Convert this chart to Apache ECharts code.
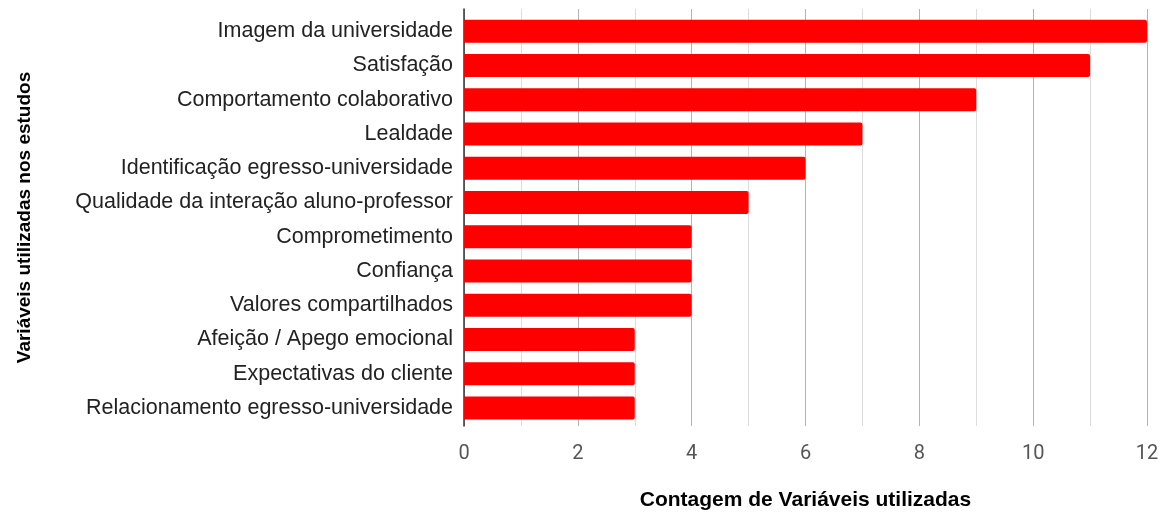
<!DOCTYPE html>
<html>
<head>
<meta charset="utf-8">
<script src="https://cdn.jsdelivr.net/npm/echarts@6/dist/echarts.min.js"></script>
<style>
  html, body { margin: 0; padding: 0; background: #fff; }
  #chart { width: 1173px; height: 516px; }
</style>
</head>
<body>
<div id="chart"></div>
<script>
// dados
var categorias = [
  'Imagem da universidade',
  'Satisfação',
  'Comportamento colaborativo',
  'Lealdade',
  'Identificação egresso-universidade',
  'Qualidade da interação aluno-professor',
  'Comprometimento',
  'Confiança',
  'Valores compartilhados',
  'Afeição / Apego emocional',
  'Expectativas do cliente',
  'Relacionamento egresso-universidade'
];
var contagem = [12, 11, 9, 7, 6, 5, 4, 4, 4, 3, 3, 3];
var eixoMin = 0, eixoMax = 12, eixoPasso = 2;

var myChart = echarts.init(document.getElementById('chart'));

var option = {
  animation: false,
  grid: [
    // grade das barras
    { left: 464, right: 26, top: 14, bottom: 91 },
    // grade das linhas de fundo (um pouco maior)
    { left: 464, right: 26, top: 9, bottom: 86 }
  ],
  xAxis: [
    {
      gridIndex: 0, type: 'value', min: eixoMin, max: eixoMax, interval: eixoPasso,
      axisLine: { show: false }, axisTick: { show: false },
      axisLabel: { show: false }, splitLine: { show: false }
    },
    {
      gridIndex: 1, type: 'value', min: eixoMin, max: eixoMax, interval: eixoPasso,
      axisLine: { show: false }, axisTick: { show: false },
      axisLabel: { color: '#555', fontFamily: 'Roboto', fontSize: 20, margin: 18 },
      splitLine: { show: true, lineStyle: { color: '#b3b3b3', width: 1 } },
      minorTick: { show: false, splitNumber: 2 },
      minorSplitLine: { show: true, lineStyle: { color: '#dcdcdc', width: 1 } },
      name: 'Contagem de Variáveis utilizadas',
      nameLocation: 'middle',
      nameGap: 64,
      nameTextStyle: { color: '#000', fontFamily: 'Liberation Sans', fontWeight: 'bold', fontSize: 21 }
    }
  ],
  yAxis: [
    {
      gridIndex: 0, type: 'category', data: categorias, inverse: true,
      axisLine: { show: false }, axisTick: { show: false },
      axisLabel: { color: '#222', fontFamily: 'Liberation Sans', fontSize: 21.5, margin: 11 }
    },
    {
      gridIndex: 1, type: 'value', min: 0, max: 1,
      axisLine: { show: true, lineStyle: { color: '#333', width: 1.5 } },
      axisTick: { show: false }, axisLabel: { show: false }, splitLine: { show: false },
      name: 'Variáveis utilizadas nos estudos',
      nameLocation: 'middle',
      nameRotate: 90,
      nameGap: 430,
      nameTextStyle: { color: '#000', fontFamily: 'Liberation Sans', fontWeight: 'bold', fontSize: 19 }
    }
  ],
  series: [{
    type: 'bar',
    xAxisIndex: 0,
    yAxisIndex: 0,
    data: contagem,
    barWidth: 23,
    itemStyle: { color: '#ff0000', borderRadius: [0, 2, 2, 0] },
    z: 3
  }]
};

myChart.setOption(option);
</script>
</body>
</html>
